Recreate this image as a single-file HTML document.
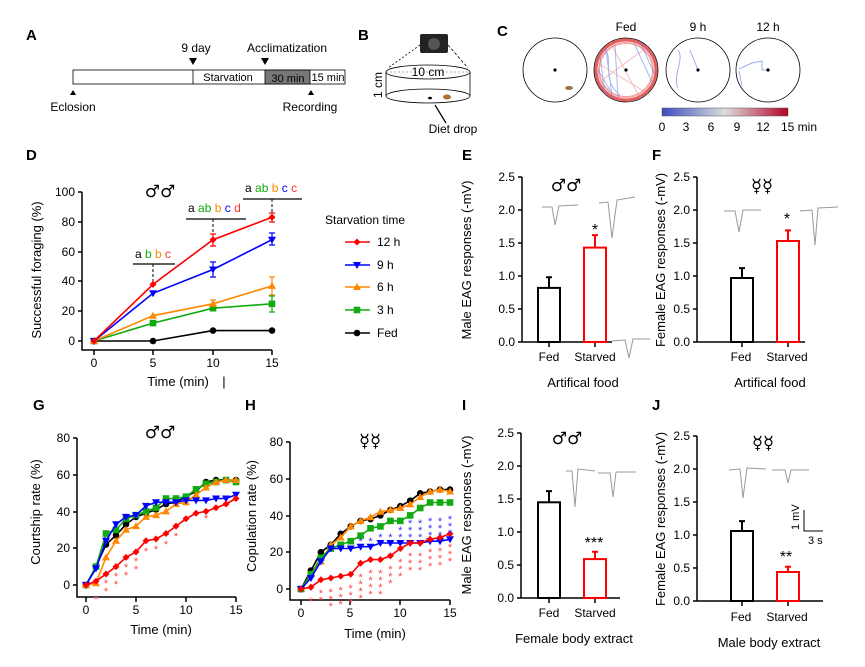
<!DOCTYPE html>
<html><head><meta charset="utf-8"><style>
html,body{margin:0;padding:0;background:#fff}
svg{display:block;font-family:"Liberation Sans",Arial,sans-serif}
.sym{font-family:"DejaVu Sans",sans-serif}
</style></head><body>
<svg width="865" height="667" viewBox="0 0 865 667" xmlns="http://www.w3.org/2000/svg">
<defs>
<linearGradient id="cb"><stop offset="0" stop-color="#3b4cc0"/><stop offset="0.5" stop-color="#dddddd"/><stop offset="1" stop-color="#b40426"/></linearGradient>
<marker id="mk" markerUnits="userSpaceOnUse" markerWidth="10" markerHeight="10" refX="5" refY="5" overflow="visible"><circle cx="5" cy="5" r="3.3" fill="#000"/></marker>
<marker id="mr" markerUnits="userSpaceOnUse" markerWidth="10" markerHeight="10" refX="5" refY="5" overflow="visible"><path d="M5,1.5L8.5,5L5,8.5L1.5,5Z" fill="#f00"/></marker>
<marker id="mb" markerUnits="userSpaceOnUse" markerWidth="10" markerHeight="10" refX="5" refY="5" overflow="visible"><path d="M1,2L9,2L5,9Z" fill="#00f"/></marker>
<marker id="mo" markerUnits="userSpaceOnUse" markerWidth="10" markerHeight="10" refX="5" refY="5" overflow="visible"><path d="M1,8L9,8L5,1Z" fill="#f80"/></marker>
<marker id="mg" markerUnits="userSpaceOnUse" markerWidth="10" markerHeight="10" refX="5" refY="5" overflow="visible"><rect x="1.7" y="1.7" width="6.6" height="6.6" fill="#1a1"/></marker>
</defs>
<rect width="865" height="667" fill="#fff"/>
<g font-size="15" font-weight="bold" fill="#000">
<text x="26" y="40">A</text><text x="358" y="40">B</text><text x="497" y="36">C</text>
<text x="26" y="160">D</text><text x="462" y="160">E</text><text x="652" y="160">F</text>
<text x="33" y="410">G</text><text x="245" y="410">H</text><text x="462" y="410">I</text><text x="652" y="410">J</text>
</g>
<!-- A -->
<g font-size="12" fill="#000">
<rect x="73" y="70" width="272" height="14" fill="#fff" stroke="#000" stroke-width="0.8"/>
<rect x="265" y="70" width="45" height="14" fill="#777" stroke="#000" stroke-width="0.8"/>
<line x1="193" y1="70" x2="193" y2="84" stroke="#000" stroke-width="0.8"/>
<text x="228" y="81" text-anchor="middle" font-size="11">Starvation</text>
<text x="288" y="82" text-anchor="middle" font-size="11">30 min</text>
<text x="328" y="81" text-anchor="middle" font-size="11">15 min</text>
<path d="M189,58 L197,58 L193,65Z M261,58 L269,58 L265,65Z M70,95 L76,95 L73,90Z M308,95 L314,95 L311,90Z"/>
<text x="196" y="52" text-anchor="middle">9 day</text>
<text x="287" y="52" text-anchor="middle">Acclimatization</text>
<text x="73" y="111" text-anchor="middle">Eclosion</text>
<text x="310" y="111" text-anchor="middle">Recording</text>
</g>
<!-- B -->
<g fill="none" stroke="#000" stroke-width="0.8">
<ellipse cx="428" cy="72" rx="42" ry="7"/>
<ellipse cx="428" cy="96" rx="42" ry="7"/>
<line x1="386" y1="72" x2="386" y2="96"/><line x1="470" y1="72" x2="470" y2="96"/>
<line x1="420" y1="45" x2="388" y2="68" stroke-dasharray="2,2"/>
<line x1="448" y1="45" x2="468" y2="68" stroke-dasharray="3,2"/>
<line x1="386" y1="72" x2="470" y2="72" stroke-dasharray="2,2" stroke="#999"/>
<line x1="446" y1="123" x2="435" y2="105" stroke-width="1.2"/>
</g>
<rect x="420" y="34" width="28" height="19" rx="2" fill="#222"/>
<circle cx="434" cy="44" r="6" fill="#555"/>
<ellipse cx="430" cy="98" rx="2" ry="1.3" fill="#000"/>
<ellipse cx="447" cy="97" rx="4" ry="2.5" fill="#b07030"/>
<text x="428" y="76" text-anchor="middle" font-size="12">10 cm</text>
<text transform="translate(382,85) rotate(-90)" text-anchor="middle" font-size="12">1 cm</text>
<text x="453" y="133" text-anchor="middle" font-size="12">Diet drop</text>
<!-- C -->
<g fill="#fff" stroke="#000" stroke-width="0.8">
<circle cx="555" cy="70" r="32"/><circle cx="626" cy="70" r="32"/><circle cx="698" cy="70" r="32"/><circle cx="768" cy="70" r="32"/>
</g>
<g fill="none" stroke-width="1">
<circle cx="626" cy="70" r="30" stroke="#d33" stroke-width="3" opacity="0.8"/>
<circle cx="626" cy="70" r="27" stroke="#e66" stroke-width="2" opacity="0.6"/>
<path d="M600,55 L605,95 M606,50 L612,96 M598,70 L610,90 M615,45 L618,98 M634,43 L652,82 M640,42 L655,75 M604,48 C615,60 600,80 620,95" stroke="#6688ee" opacity="0.6"/>
<path d="M596,62 L650,95 M610,42 L640,98 M602,80 L650,45" stroke="#e77" opacity="0.5"/>
<path d="M678,50 C685,60 672,75 678,88 M690,50 L698,70" stroke="#99b0f0"/>
<path d="M739,69 L752,63 L762,61 L762,70 L768,70 M739,71 L742,86" stroke="#99b0f0"/>
</g>
<g fill="#000"><circle cx="555" cy="70" r="1.6"/><circle cx="626" cy="70" r="1.6"/><circle cx="698" cy="70" r="1.6"/><circle cx="768" cy="70" r="1.6"/></g>
<ellipse cx="569" cy="88" rx="4" ry="2" fill="#a07040"/>
<text x="626" y="31" text-anchor="middle" font-size="12">Fed</text>
<text x="698" y="31" text-anchor="middle" font-size="12">9 h</text>
<text x="768" y="31" text-anchor="middle" font-size="12">12 h</text>
<rect x="662" y="108" width="126" height="8" fill="url(#cb)" stroke="#555" stroke-width="0.5"/>
<g font-size="12" text-anchor="middle"><text x="662" y="131">0</text><text x="686" y="131">3</text><text x="711" y="131">6</text><text x="737" y="131">9</text><text x="763" y="131">12</text><text x="799" y="131">15 min</text></g>

<!-- D -->
<g stroke="#000" stroke-width="1.5" fill="none">
<path d="M82,192 V350 H272"/>
<path d="M78,192H82 M78,222H82 M78,252H82 M78,281H82 M78,311H82 M78,341H82"/>
<path d="M94,350V355 M153,350V355 M213,350V355 M272,350V355"/>
</g>
<g font-size="12" text-anchor="end"><text x="75" y="196">100</text><text x="75" y="226">80</text><text x="75" y="256">60</text><text x="75" y="285">40</text><text x="75" y="315">20</text><text x="75" y="345">0</text></g>
<g font-size="12" text-anchor="middle"><text x="94" y="367">0</text><text x="153" y="367">5</text><text x="213" y="367">10</text><text x="272" y="367">15</text>
<text x="178" y="386" font-size="13">Time (min)</text><text x="224" y="386" font-size="13">|</text></g>
<text transform="translate(41,270) rotate(-90)" text-anchor="middle" font-size="13">Successful foraging (%)</text>
<text x="160" y="197" text-anchor="middle" font-size="17" class="sym">♂♂</text>
<g stroke="#000" stroke-width="1.3"><line x1="133" y1="264" x2="175" y2="264"/><line x1="186" y1="219" x2="246" y2="219"/><line x1="243" y1="199" x2="302" y2="199"/></g>
<g stroke="#000" stroke-dasharray="3,2"><line x1="153" y1="264" x2="153" y2="282"/><line x1="213" y1="219" x2="213" y2="236"/><line x1="272" y1="199" x2="272" y2="213"/></g>
<g font-size="12"><text x="135" y="258"><tspan>a </tspan><tspan fill="#1a1">b </tspan><tspan fill="#f80">b </tspan><tspan fill="#f33">c</tspan></text>
<text x="188" y="212"><tspan>a </tspan><tspan fill="#1a1">ab </tspan><tspan fill="#f80">b </tspan><tspan fill="#00f">c </tspan><tspan fill="#f33">d</tspan></text>
<text x="245" y="192"><tspan>a </tspan><tspan fill="#1a1">ab </tspan><tspan fill="#f80">b </tspan><tspan fill="#00f">c </tspan><tspan fill="#f33">c</tspan></text></g>
<g stroke-width="1.2" fill="none">
<path d="M213,262V277M210,262h6M210,277h6M272,233V245M269,233h6M269,245h6" stroke="#00f"/>
<path d="M213,234V246M210,234h6M210,246h6M272,213V222M269,213h6M269,222h6" stroke="#f00"/>
<path d="M272,277V295M269,277h6M269,295h6M213,300V308M210,300h6" stroke="#f80"/>
<path d="M272,296V312M269,296h6M269,312h6" stroke="#1a1"/>
</g>
<polyline points="94,341 153,341 213,330.6 272,330.6" fill="none" stroke="#000" stroke-width="1.6" marker-start="url(#mk)" marker-mid="url(#mk)" marker-end="url(#mk)"/>
<polyline points="94,341 153,323.1 213,308.2 272,303.8" fill="none" stroke="#1a1" stroke-width="1.6" marker-start="url(#mg)" marker-mid="url(#mg)" marker-end="url(#mg)"/>
<polyline points="94,341 153,315.7 213,303.8 272,285.9" fill="none" stroke="#f80" stroke-width="1.6" marker-start="url(#mo)" marker-mid="url(#mo)" marker-end="url(#mo)"/>
<polyline points="94,341 153,293.3 213,269.5 272,239.7" fill="none" stroke="#00f" stroke-width="1.6" marker-start="url(#mb)" marker-mid="url(#mb)" marker-end="url(#mb)"/>
<polyline points="94,341 153,284.4 213,239.7 272,217.3" fill="none" stroke="#f00" stroke-width="1.6" marker-start="url(#mr)" marker-mid="url(#mr)" marker-end="url(#mr)"/>
<text x="325" y="224" font-size="12">Starvation time</text>
<g font-size="12"><text x="377" y="246">12 h</text><text x="377" y="269">9 h</text><text x="377" y="291">6 h</text><text x="377" y="314">3 h</text><text x="377" y="337">Fed</text></g>
<g stroke-width="1.6" fill="none">
<polyline points="345,242 357,242 370,242" stroke="#f00" marker-mid="url(#mr)"/>
<polyline points="345,265 357,265 370,265" stroke="#00f" marker-mid="url(#mb)"/>
<polyline points="345,287 357,287 370,287" stroke="#f80" marker-mid="url(#mo)"/>
<polyline points="345,310 357,310 370,310" stroke="#1a1" marker-mid="url(#mg)"/>
<polyline points="345,333 357,333 370,333" stroke="#000" marker-mid="url(#mk)"/>
</g>

<!-- G -->
<g stroke="#000" stroke-width="1.5" fill="none">
<path d="M77,438 V597 H236"/>
<path d="M73,438H77 M73,475H77 M73,512H77 M73,548H77 M73,585H77"/>
<path d="M86,597V602 M136,597V602 M186,597V602 M236,597V602"/>
</g>
<g font-size="12" text-anchor="end"><text x="70" y="442">80</text><text x="70" y="479">60</text><text x="70" y="516">40</text><text x="70" y="552">20</text><text x="70" y="589">0</text></g>
<g font-size="12" text-anchor="middle"><text x="86" y="614">0</text><text x="136" y="614">5</text><text x="186" y="614">10</text><text x="236" y="614">15</text><text x="161" y="634" font-size="13">Time (min)</text></g>
<text transform="translate(40,512) rotate(-90)" text-anchor="middle" font-size="13">Courtship rate (%)</text>
<text x="160" y="438" text-anchor="middle" font-size="17" class="sym">♂♂</text>
<g fill="none" stroke-width="1.6">
<polyline stroke="#000" marker-start="url(#mk)" marker-mid="url(#mk)" marker-end="url(#mk)" points="86,585 96,566.6 106,544.5 116,535.3 126,524.3 136,516.9 146,513.2 156,509.6 166,504 176,502.2 186,496.7 196,491.2 206,482 216,480.1 226,480.1 236,480.1"/>
<polyline stroke="#1a1" marker-start="url(#mg)" marker-mid="url(#mg)" marker-end="url(#mg)" points="86,585 96,566.6 106,533.5 116,529.8 126,518.8 136,515.1 146,511.4 156,507.7 166,498.5 176,498.5 186,496.7 196,489.3 206,483.8 216,482 226,480.1 236,482"/>
<polyline stroke="#f80" marker-start="url(#mo)" marker-mid="url(#mo)" marker-end="url(#mo)" points="86,585 96,583.2 106,557.4 116,540.8 126,529.8 136,526.1 146,516.9 156,515.1 166,511.4 176,504 186,502.2 196,494.8 206,487.5 216,482 226,480.1 236,480.1"/>
<polyline stroke="#00f" marker-start="url(#mb)" marker-mid="url(#mb)" marker-end="url(#mb)" points="86,585 96,568.4 106,540.8 116,524.3 126,516.9 136,515.1 146,505.9 156,502.2 166,502.2 176,502.2 186,500.4 196,500.4 206,500.4 216,498.5 226,498.5 236,494.8"/>
<polyline stroke="#f00" marker-start="url(#mr)" marker-mid="url(#mr)" marker-end="url(#mr)" points="86,585 96,581.3 106,574 116,566.6 126,557.4 136,551.9 146,540.8 156,539 166,533.5 176,526.1 186,518.8 196,513.2 206,511.4 216,507.7 226,504 236,498.5"/>
</g>
<g fill="#f44" font-size="11" text-anchor="middle">
<text x="96" y="603">*</text>
<text x="106" y="595">*</text><text x="106" y="587">*</text>
<text x="116" y="588">*</text><text x="116" y="580">*</text>
<text x="126" y="579">*</text><text x="126" y="571">*</text>
<text x="136" y="573">*</text><text x="136" y="565">*</text>
<text x="146" y="555">*</text><text x="156" y="553">*</text><text x="166" y="548">*</text><text x="176" y="540">*</text><text x="206" y="522">*</text>
</g>

<!-- H -->
<g stroke="#000" stroke-width="1.5" fill="none">
<path d="M290,442 V600 H450"/>
<path d="M286,442H290 M286,479H290 M286,516H290 M286,552H290 M286,589H290"/>
<path d="M301,600V605 M350,600V605 M400,600V605 M450,600V605"/>
</g>
<g font-size="12" text-anchor="end"><text x="283" y="446">80</text><text x="283" y="483">60</text><text x="283" y="520">40</text><text x="283" y="556">20</text><text x="283" y="593">0</text></g>
<g font-size="12" text-anchor="middle"><text x="301" y="617">0</text><text x="350" y="617">5</text><text x="400" y="617">10</text><text x="450" y="617">15</text><text x="375" y="638" font-size="13">Time (min)</text></g>
<text transform="translate(256,516) rotate(-90)" text-anchor="middle" font-size="13">Copulation rate (%)</text>
<text x="370" y="447" text-anchor="middle" font-size="18" class="sym">☿☿</text>
<g fill="none" stroke-width="1.6">
<polyline stroke="#000" marker-start="url(#mk)" marker-mid="url(#mk)" marker-end="url(#mk)" points="301,589 310.9,570.6 320.9,552.2 330.8,544.8 340.7,533.8 350.7,526.4 360.6,520.9 370.5,519.1 380.4,515.4 390.4,509.9 400.3,506.2 410.2,500.7 420.2,493.3 430.1,491.5 440,489.6 450,489.6"/>
<polyline stroke="#f80" marker-start="url(#mo)" marker-mid="url(#mo)" marker-end="url(#mo)" points="301,589 310.9,574.3 320.9,561.4 330.8,544.8 340.7,537.5 350.7,526.4 360.6,520.9 370.5,517.2 380.4,511.7 390.4,509.9 400.3,508 410.2,504.4 420.2,497 430.1,491.5 440,489.6 450,491.5"/>
<polyline stroke="#1a1" marker-start="url(#mg)" marker-mid="url(#mg)" marker-end="url(#mg)" points="301,589 310.9,574.3 320.9,557.7 330.8,548.5 340.7,544.8 350.7,541.2 360.6,535.6 370.5,528.3 380.4,526.4 390.4,520.9 400.3,520.9 410.2,515.4 420.2,508 430.1,502.5 440,502.5 450,502.5"/>
<polyline stroke="#00f" marker-start="url(#mb)" marker-mid="url(#mb)" marker-end="url(#mb)" points="301,589 310.9,578 320.9,561.4 330.8,548.5 340.7,548.5 350.7,548.5 360.6,546.7 370.5,546.7 380.4,543 390.4,543 400.3,543 410.2,543 420.2,543 430.1,541.2 440,541.2 450,539.3"/>
<polyline stroke="#f00" marker-start="url(#mr)" marker-mid="url(#mr)" marker-end="url(#mr)" points="301,589 310.9,587.2 320.9,579.8 330.8,578 340.7,576.1 350.7,574.3 360.6,563.2 370.5,559.6 380.4,559.6 390.4,555.9 400.3,548.5 410.2,543 420.2,543 430.1,539.3 440,537.5 450,533.8"/>
</g>
<g fill="#f44" font-size="11" text-anchor="middle">
<text x="310.9" y="605">*</text>
<text x="320.9"><tspan x="320.9" y="597">*</tspan><tspan x="320.9" dy="7">*</tspan></text>
<text><tspan x="330.8" y="596">*</tspan><tspan x="330.8" dy="7">*</tspan><tspan x="330.8" dy="7">*</tspan></text>
<text><tspan x="340.7" y="594">*</tspan><tspan x="340.7" dy="7">*</tspan><tspan x="340.7" dy="7">*</tspan></text>
<text><tspan x="350.7" y="592">*</tspan><tspan x="350.7" dy="7">*</tspan><tspan x="350.7" dy="7">*</tspan></text>
<text><tspan x="360.6" y="581">*</tspan><tspan x="360.6" dy="7">*</tspan><tspan x="360.6" dy="7">*</tspan><tspan x="360.6" dy="7">*</tspan></text>
<text><tspan x="370.5" y="577">*</tspan><tspan x="370.5" dy="7">*</tspan><tspan x="370.5" dy="7">*</tspan><tspan x="370.5" dy="7">*</tspan></text>
<text><tspan x="380.4" y="577">*</tspan><tspan x="380.4" dy="7">*</tspan><tspan x="380.4" dy="7">*</tspan><tspan x="380.4" dy="7">*</tspan></text>
<text><tspan x="390.4" y="573">*</tspan><tspan x="390.4" dy="7">*</tspan><tspan x="390.4" dy="7">*</tspan></text>
<text><tspan x="400.3" y="566">*</tspan><tspan x="400.3" dy="7">*</tspan><tspan x="400.3" dy="7">*</tspan></text>
<text><tspan x="410.2" y="560">*</tspan><tspan x="410.2" dy="7">*</tspan><tspan x="410.2" dy="7">*</tspan></text>
<text><tspan x="420.2" y="560">*</tspan><tspan x="420.2" dy="7">*</tspan><tspan x="420.2" dy="7">*</tspan></text>
<text><tspan x="430.1" y="556">*</tspan><tspan x="430.1" dy="7">*</tspan><tspan x="430.1" dy="7">*</tspan></text>
<text><tspan x="440" y="555">*</tspan><tspan x="440" dy="7">*</tspan><tspan x="440" dy="7">*</tspan></text>
<text><tspan x="450" y="551">*</tspan><tspan x="450" dy="7">*</tspan><tspan x="450" dy="7">*</tspan></text>
</g>
<g fill="#33f" font-size="11" text-anchor="middle">
<text x="360.6" y="545">*</text><text x="370.5" y="545">*</text><text x="380.4" y="541">*</text><text x="390.4" y="541">*</text>
<text><tspan x="400.3" y="541">*</tspan><tspan x="400.3" dy="-7">*</tspan></text>
<text><tspan x="410.2" y="541">*</tspan><tspan x="410.2" dy="-7">*</tspan><tspan x="410.2" dy="-7">*</tspan></text>
<text><tspan x="420.2" y="541">*</tspan><tspan x="420.2" dy="-7">*</tspan><tspan x="420.2" dy="-7">*</tspan></text>
<text><tspan x="430.1" y="539">*</tspan><tspan x="430.1" dy="-7">*</tspan><tspan x="430.1" dy="-7">*</tspan></text>
<text><tspan x="440" y="539">*</tspan><tspan x="440" dy="-7">*</tspan><tspan x="440" dy="-7">*</tspan></text>
<text><tspan x="450" y="537">*</tspan><tspan x="450" dy="-7">*</tspan><tspan x="450" dy="-7">*</tspan></text>
</g>

<!-- E -->
<g stroke="#000" stroke-width="1.5" fill="none">
<path d="M522,177V342H612 M518,342h4M518,309h4M518,276h4M518,243h4M518,210h4M518,177h4 M549,342v5M595,342v5"/>
<path d="M697,177V342H805 M693,342h4M693,309h4M693,276h4M693,243h4M693,210h4M693,177h4 M742,342v5M788,342v5"/>
<path d="M521,433V598H620 M517,598h4M517,565h4M517,532h4M517,499h4M517,466h4M517,433h4 M549,598v5M595,598v5"/>
<path d="M697,436V601H823 M693,601h4M693,568h4M693,535h4M693,502h4M693,469h4M693,436h4 M742,601v5M788,601v5"/>
</g>
<g font-size="12" text-anchor="end">
<text x="515" y="346">0.0</text><text x="515" y="313">0.5</text><text x="515" y="280">1.0</text><text x="515" y="247">1.5</text><text x="515" y="214">2.0</text><text x="515" y="181">2.5</text>
<text x="690" y="346">0.0</text><text x="690" y="313">0.5</text><text x="690" y="280">1.0</text><text x="690" y="247">1.5</text><text x="690" y="214">2.0</text><text x="690" y="181">2.5</text>
<text x="514" y="602">0.0</text><text x="514" y="569">0.5</text><text x="514" y="536">1.0</text><text x="514" y="503">1.5</text><text x="514" y="470">2.0</text><text x="514" y="437">2.5</text>
<text x="690" y="605">0.0</text><text x="690" y="572">0.5</text><text x="690" y="539">1.0</text><text x="690" y="506">1.5</text><text x="690" y="473">2.0</text><text x="690" y="440">2.5</text>
</g>
<g fill="#fff" stroke-width="2">
<rect x="538" y="287.9" width="22" height="54.1" stroke="#000"/><path d="M549,287.9V277.3M546,277.3h6" stroke="#000"/>
<rect x="584" y="247.6" width="22" height="94.4" stroke="#f00"/><path d="M595,247.6V235.1M592,235.1h6" stroke="#f00"/>
<rect x="731" y="278" width="22" height="64" stroke="#000"/><path d="M742,278V268.1M739,268.1h6" stroke="#000"/>
<rect x="777" y="241" width="22" height="101" stroke="#f00"/><path d="M788,241V230.4M785,230.4h6" stroke="#f00"/>
<rect x="538" y="502.3" width="22" height="95.7" stroke="#000"/><path d="M549,502.3V491.1M546,491.1h6" stroke="#000"/>
<rect x="584" y="559.1" width="22" height="38.9" stroke="#f00"/><path d="M595,559.1V551.8M592,551.8h6" stroke="#f00"/>
<rect x="731" y="531" width="22" height="70" stroke="#000"/><path d="M742,531V521.1M739,521.1h6" stroke="#000"/>
<rect x="777" y="572" width="22" height="29" stroke="#f00"/><path d="M788,572V566.7M785,566.7h6" stroke="#f00"/>
</g>
<g font-size="12">
<text transform="translate(471,260) rotate(-90)" text-anchor="middle" font-size="13">Male EAG responses (-mV)</text>
<text transform="translate(665,260) rotate(-90)" text-anchor="middle" font-size="13">Female EAG responses (-mV)</text>
<text transform="translate(471,515) rotate(-90)" text-anchor="middle" font-size="13">Male EAG responses (-mV)</text>
<text transform="translate(665,519) rotate(-90)" text-anchor="middle" font-size="13">Female EAG responses (-mV)</text>
<text x="549" y="361" text-anchor="middle">Fed</text><text x="595" y="361" text-anchor="middle">Starved</text>
<text x="741" y="361" text-anchor="middle">Fed</text><text x="787" y="361" text-anchor="middle">Starved</text>
<text x="583" y="387" text-anchor="middle" font-size="13">Artifical food</text>
<text x="770" y="387" text-anchor="middle" font-size="13">Artifical food</text>
<text x="549" y="617" text-anchor="middle">Fed</text><text x="595" y="617" text-anchor="middle">Starved</text>
<text x="741" y="621" text-anchor="middle">Fed</text><text x="787" y="621" text-anchor="middle">Starved</text>
<text x="574" y="643" text-anchor="middle" font-size="13">Female body extract</text>
<text x="769" y="647" text-anchor="middle" font-size="13">Male body extract</text>
<text x="566" y="191" text-anchor="middle" font-size="17" class="sym">♂♂</text>
<text x="762" y="192" text-anchor="middle" font-size="18" class="sym">☿☿</text>
<text x="567" y="444" text-anchor="middle" font-size="17" class="sym">♂♂</text>
<text x="763" y="449" text-anchor="middle" font-size="18" class="sym">☿☿</text>
<text x="595" y="235" text-anchor="middle" font-size="16">*</text>
<text x="787" y="224" text-anchor="middle" font-size="16">*</text>
<text x="594" y="548" text-anchor="middle" font-size="16">***</text>
<text x="786" y="562" text-anchor="middle" font-size="16">**</text>
<text transform="translate(799,530) rotate(-90)" font-size="11">1 mV</text>
<text x="808" y="544" font-size="11">3 s</text>
</g>
<path d="M804,510 V531 H823" stroke="#000" fill="none" stroke-width="1"/>
<g stroke="#999" fill="none" stroke-width="1">
<path d="M542,207 L552,207 L555,225 L559,206 L578,205"/>
<path d="M599,203 L608,202 L612,238 L617,200 L635,197"/>
<path d="M612,341 L625,340 L629,358 L633,339 L650,339"/>
<path d="M724,211 L735,211 L739,232 L743,210 L761,210"/>
<path d="M800,211 L812,210 L815,245 L818,208 L838,207"/>
<path d="M566,471 L572,471 L575,507 L578,469 L595,471"/>
<path d="M598,473 L610,473 L613,497 L616,472 L636,472"/>
<path d="M729,470 L740,469 L743,498 L747,468 L766,469"/>
<path d="M772,470 L785,470 L788,483 L791,470 L809,470"/>
</g>
</svg>
</body></html>
